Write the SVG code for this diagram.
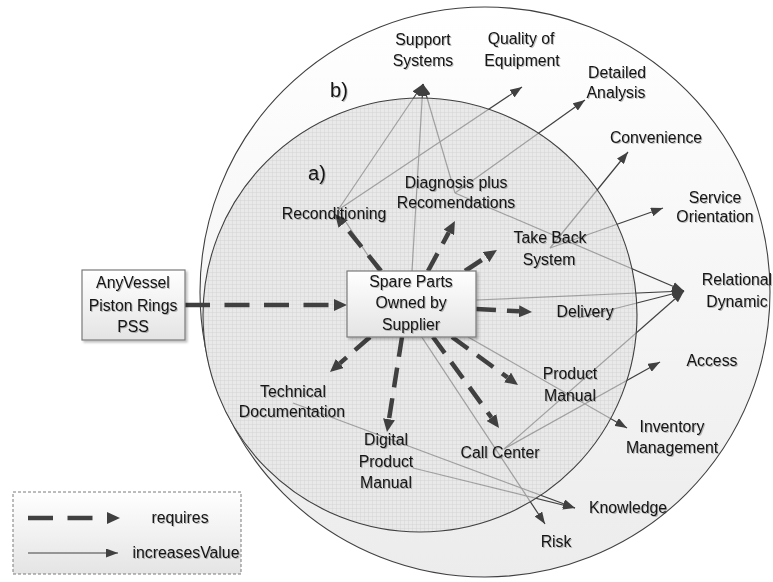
<svg xmlns="http://www.w3.org/2000/svg" width="773" height="582" viewBox="0 0 773 582">
<defs>
  <style>
    .lbl{font-family:"Liberation Sans",Arial,sans-serif;font-size:15.8px;fill:#141414;text-anchor:middle;filter:url(#tsh)}
    .big{font-size:20px}
    .thin{stroke:#404040;stroke-width:1.2;fill:none;marker-end:url(#ah)}
    .dash{stroke:#404040;stroke-width:4.5;fill:none;stroke-dasharray:20 11;marker-end:url(#ahb)}
    .dashL{stroke:#404040;stroke-width:4.5;fill:none;stroke-dasharray:25 14.5;marker-end:url(#ahb)}
    .box{fill:url(#boxg);stroke:#7a7a7a;stroke-width:1.2;filter:url(#bsh)}
  </style>
  <linearGradient id="outerg" x1="0" y1="0" x2="0" y2="1">
    <stop offset="0" stop-color="#ffffff"/>
    <stop offset="1" stop-color="#ececec"/>
  </linearGradient>
  <linearGradient id="boxg" x1="0" y1="0" x2="0" y2="1">
    <stop offset="0" stop-color="#ffffff"/>
    <stop offset="1" stop-color="#e4e4e4"/>
  </linearGradient>
  <pattern id="grid" width="4" height="4" patternUnits="userSpaceOnUse">
    <rect width="4" height="4" fill="#e9e9e9"/>
    <path d="M0,0.3 H4 M0.3,0 V4" stroke="#d4d4d4" stroke-width="0.6"/>
  </pattern>
  <mask id="inside" maskUnits="userSpaceOnUse" x="0" y="0" width="773" height="582">
    <rect width="773" height="582" fill="#ffffff"/>
    <circle cx="420" cy="315" r="217" fill="#6a6a6a"/>
  </mask>
  <marker id="ah" viewBox="0 0 12 9" refX="12" refY="4.5" markerWidth="12" markerHeight="9" markerUnits="userSpaceOnUse" orient="auto">
    <path d="M0,0 L12,4.5 L0,9 z" fill="#404040"/>
  </marker>
  <marker id="ahb" viewBox="0 0 13 12" refX="0" refY="6" markerWidth="13" markerHeight="12" markerUnits="userSpaceOnUse" orient="auto">
    <path d="M0,0 L13,6 L0,12 z" fill="#404040"/>
  </marker>
  <filter id="bsh" x="-10%" y="-10%" width="130%" height="130%">
    <feDropShadow dx="2" dy="2" stdDeviation="1" flood-color="#000" flood-opacity="0.25"/>
  </filter>
  <filter id="tsh" x="-10%" y="-20%" width="120%" height="150%">
    <feDropShadow dx="1" dy="1" stdDeviation="0.6" flood-color="#000" flood-opacity="0.25"/>
  </filter>
</defs>

<rect width="773" height="582" fill="#ffffff"/>

<g id="zone-b">
  <circle cx="485" cy="292" r="285" fill="url(#outerg)" stroke="#404040" stroke-width="1.1"/>
  <text class="lbl big" x="339" y="97">b)</text>
</g>
<g id="zone-a">
  <circle cx="420" cy="315" r="217" fill="url(#grid)" stroke="#404040" stroke-width="1.1"/>
  <text class="lbl big" x="317" y="180">a)</text>
</g>

<g id="connectors">
  <g id="increasesValue" mask="url(#inside)">
    <line class="thin" x1="338" y1="210" x2="423" y2="84"/>
    <line class="thin" x1="338" y1="210" x2="522" y2="87"/>
    <line class="thin" x1="338" y1="210" x2="545" y2="524"/>
    <line class="thin" x1="455" y1="193" x2="423" y2="84"/>
    <line class="thin" x1="455" y1="193" x2="585" y2="100"/>
    <line class="thin" x1="455" y1="193" x2="684" y2="291"/>
    <line class="thin" x1="412" y1="271" x2="423" y2="84"/>
    <line class="thin" x1="476" y1="300" x2="684" y2="291"/>
    <line class="thin" x1="468" y1="337" x2="627" y2="428"/>
    <line class="thin" x1="550" y1="248" x2="628" y2="152"/>
    <line class="thin" x1="550" y1="248" x2="663" y2="208"/>
    <line class="thin" x1="578" y1="318" x2="684" y2="291"/>
    <line class="thin" x1="504" y1="449" x2="684" y2="291"/>
    <line class="thin" x1="504" y1="449" x2="660" y2="362"/>
    <line class="thin" x1="293" y1="403" x2="575" y2="508"/>
    <line class="thin" x1="413" y1="468" x2="575" y2="508"/>
  </g>
  <g id="requires">
    <line class="dashL" x1="185" y1="305" x2="334" y2="305"/>
    <line class="dash" x1="381" y1="271" x2="343.2" y2="224.1"/>
    <line class="dash" x1="428" y1="271" x2="448.8" y2="232.4"/>
    <line class="dash" x1="465" y1="271" x2="486.1" y2="257.1"/>
    <line class="dash" x1="476" y1="309" x2="519" y2="311.3"/>
    <line class="dash" x1="452" y1="337" x2="507.5" y2="377.4"/>
    <line class="dash" x1="433" y1="337" x2="491.4" y2="417.5"/>
    <line class="dash" x1="402" y1="337" x2="389" y2="419.2"/>
    <line class="dash" x1="370" y1="337" x2="339.8" y2="363.4"/>
  </g>
</g>

<g id="node-anyvessel">
  <rect class="box" x="82" y="270" width="103" height="70"/>
  <text class="lbl" x="133" y="288">AnyVessel</text>
  <text class="lbl" x="133" y="311">Piston Rings</text>
  <text class="lbl" x="133" y="332">PSS</text>
</g>
<g id="node-spareparts">
  <rect class="box" x="347" y="271" width="129" height="66"/>
  <text class="lbl" x="411" y="287">Spare Parts</text>
  <text class="lbl" x="411" y="308">Owned by</text>
  <text class="lbl" x="411" y="330">Supplier</text>
</g>
<g id="node-support"><text class="lbl" x="423" y="45">Support</text><text class="lbl" x="423" y="66">Systems</text></g>
<g id="node-quality"><text class="lbl" x="521" y="44">Quality of</text><text class="lbl" x="522" y="66">Equipment</text></g>
<g id="node-detailed"><text class="lbl" x="617" y="78">Detailed</text><text class="lbl" x="616" y="98">Analysis</text></g>
<g id="node-convenience"><text class="lbl" x="656" y="143">Convenience</text></g>
<g id="node-service"><text class="lbl" x="715" y="203">Service</text><text class="lbl" x="715" y="222">Orientation</text></g>
<g id="node-relational"><text class="lbl" x="737" y="285">Relational</text><text class="lbl" x="737" y="307">Dynamic</text></g>
<g id="node-access"><text class="lbl" x="712" y="366">Access</text></g>
<g id="node-inventory"><text class="lbl" x="672" y="432">Inventory</text><text class="lbl" x="672" y="453">Management</text></g>
<g id="node-knowledge"><text class="lbl" x="628" y="513">Knowledge</text></g>
<g id="node-risk"><text class="lbl" x="556" y="547">Risk</text></g>
<g id="node-callcenter"><text class="lbl" x="500" y="458">Call Center</text></g>
<g id="node-productmanual"><text class="lbl" x="570" y="379">Product</text><text class="lbl" x="570" y="401">Manual</text></g>
<g id="node-delivery"><text class="lbl" x="585" y="317">Delivery</text></g>
<g id="node-takeback"><text class="lbl" x="550" y="243">Take Back</text><text class="lbl" x="549" y="265">System</text></g>
<g id="node-diagnosis"><text class="lbl" x="456" y="188">Diagnosis plus</text><text class="lbl" x="456" y="208">Recomendations</text></g>
<g id="node-reconditioning"><text class="lbl" x="334" y="219">Reconditioning</text></g>
<g id="node-techdoc"><text class="lbl" x="293" y="397">Technical</text><text class="lbl" x="292" y="417">Documentation</text></g>
<g id="node-digital"><text class="lbl" x="386" y="445">Digital</text><text class="lbl" x="386" y="467">Product</text><text class="lbl" x="386" y="488">Manual</text></g>

<g id="legend">
  <rect x="13" y="492" width="228" height="82" fill="url(#boxg)" stroke="#7a7a7a" stroke-width="1" stroke-dasharray="3 2"/>
  <line class="dashL" x1="28" y1="518" x2="107" y2="518"/>
  <line class="thin" x1="28" y1="553" x2="118" y2="553"/>
  <text class="lbl" x="180" y="523">requires</text>
  <text class="lbl" x="186" y="558">increasesValue</text>
</g>
</svg>
